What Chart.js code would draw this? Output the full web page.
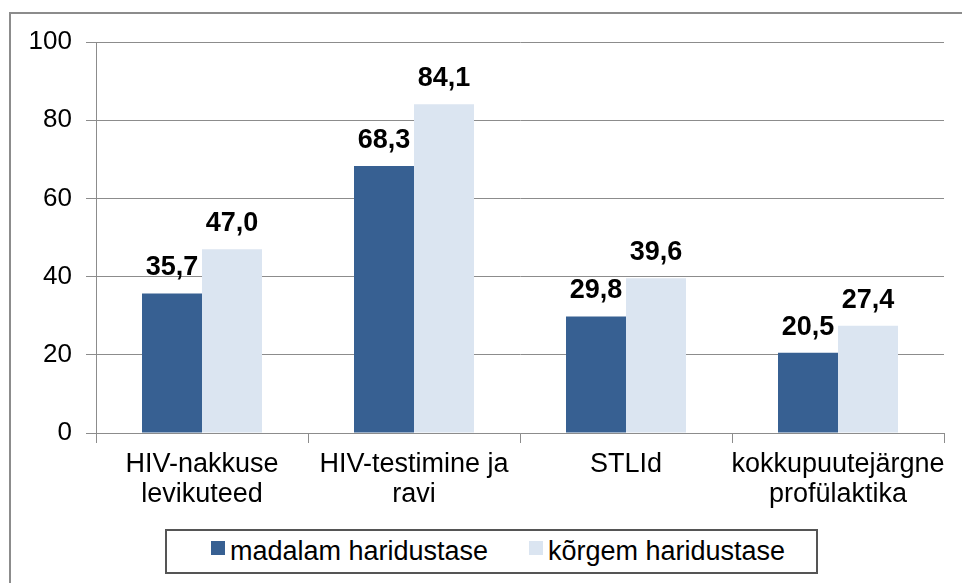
<!DOCTYPE html>
<html>
<head>
<meta charset="utf-8">
<script src="https://cdn.jsdelivr.net/npm/chart.js@4/dist/chart.umd.min.js"></script>
<style>
  html, body { margin: 0; padding: 0; background: #fff; overflow: hidden; }
  #wrap { position: relative; width: 962px; height: 583px; }
  #frame {
    position: absolute; left: 9px; top: 12px; width: 1000px; height: 1000px;
    border: 2px solid #8c8c8c; box-sizing: border-box;
  }
  #chart { position: absolute; left: 0; top: 0; }
  #legend {
    position: absolute; left: 165px; top: 529px; width: 653px; height: 45px;
    border: 2px solid #555; box-sizing: border-box; background: #fff;
    font-family: 'Liberation Sans', Arial, sans-serif; font-size: 27px; color: #000;
  }
  .item { position: absolute; top: 5px; line-height: 30px; white-space: nowrap; }
  .swatch { position: absolute; top: 10px; width: 14px; height: 14px; }
</style>
</head>
<body>
<div id="wrap">
  <div id="frame"></div>
  <canvas id="chart" width="962" height="583"></canvas>
  <div id="legend"></div>
</div>
<script>
// ---- data ----
const categories = [
  ['HIV-nakkuse', 'levikuteed'],
  ['HIV-testimine ja', 'ravi'],
  'STLId',
  ['kokkupuutejärgne', 'profülaktika']
];
const seriesNames = ['madalam haridustase', 'kõrgem haridustase'];
const lowEdu = [35.7, 68.3, 29.8, 20.5];
const highEdu = [47.0, 84.1, 39.6, 27.4];
const yTicks = [0, 20, 40, 60, 80, 100];

const colors = ['#376092', '#dbe5f1'];
const FONT = "'Liberation Sans', Arial, sans-serif";

// etiketid tulpade kohal (Excel-stiilis, koma komakohaga)
const valueLabels = {
  id: 'valueLabels',
  afterDatasetsDraw(chart) {
    const ctx = chart.ctx;
    ctx.save();
    ctx.font = 'bold 27px ' + FONT;
    ctx.fillStyle = '#000';
    ctx.textAlign = 'center';
    ctx.textBaseline = 'alphabetic';
    chart.data.datasets.forEach((ds, i) => {
      chart.getDatasetMeta(i).data.forEach((bar, j) => {
        const txt = ds.data[j].toFixed(1).replace('.', ',');
        ctx.fillText(txt, bar.x, bar.y - 18);
      });
    });
    ctx.restore();
  }
};

new Chart(document.getElementById('chart'), {
  type: 'bar',
  data: {
    labels: categories,
    datasets: [
      { label: seriesNames[0], data: lowEdu, backgroundColor: colors[0] },
      { label: seriesNames[1], data: highEdu, backgroundColor: colors[1] }
    ]
  },
  options: {
    responsive: false,
    animation: false,
    layout: { padding: { left: 10, top: 42, right: 18, bottom: 50 } },
    datasets: { bar: { categoryPercentage: 0.566, barPercentage: 1.0 } },
    plugins: { legend: { display: false }, tooltip: { enabled: false } },
    scales: {
      x: {
        afterFit: s => { s.height = 100; },
        grid: {
          display: true, drawOnChartArea: false, drawTicks: true,
          tickLength: 10, color: '#8c8c8c', offset: true
        },
        border: { color: '#8c8c8c', width: 1 },
        ticks: {
          color: '#000', padding: 7, maxRotation: 0, minRotation: 0, autoSkip: false,
          font: { family: FONT, size: 27, lineHeight: 1.1 }
        }
      },
      y: {
        min: 0, max: 100,
        afterFit: s => { s.width = 86; },
        afterBuildTicks: s => { s.ticks = yTicks.map(v => ({ value: v })); },
        grid: { color: '#8c8c8c', tickLength: 10, drawTicks: true },
        border: { color: '#8c8c8c', width: 1 },
        ticks: {
          color: '#000', padding: 14,
          font: { family: FONT, size: 26 }
        }
      }
    }
  },
  plugins: [valueLabels]
});

// legend HTML-ina (raamiga kast nagu originaalis)
const legend = document.getElementById('legend');
const itemX = [[44, 63], [362, 381]];
seriesNames.forEach((name, i) => {
  const sw = document.createElement('div');
  sw.className = 'swatch';
  sw.style.left = itemX[i][0] + 'px';
  sw.style.background = colors[i];
  legend.appendChild(sw);
  const it = document.createElement('div');
  it.className = 'item';
  it.style.left = itemX[i][1] + 'px';
  it.textContent = name;
  legend.appendChild(it);
});
</script>
</body>
</html>
